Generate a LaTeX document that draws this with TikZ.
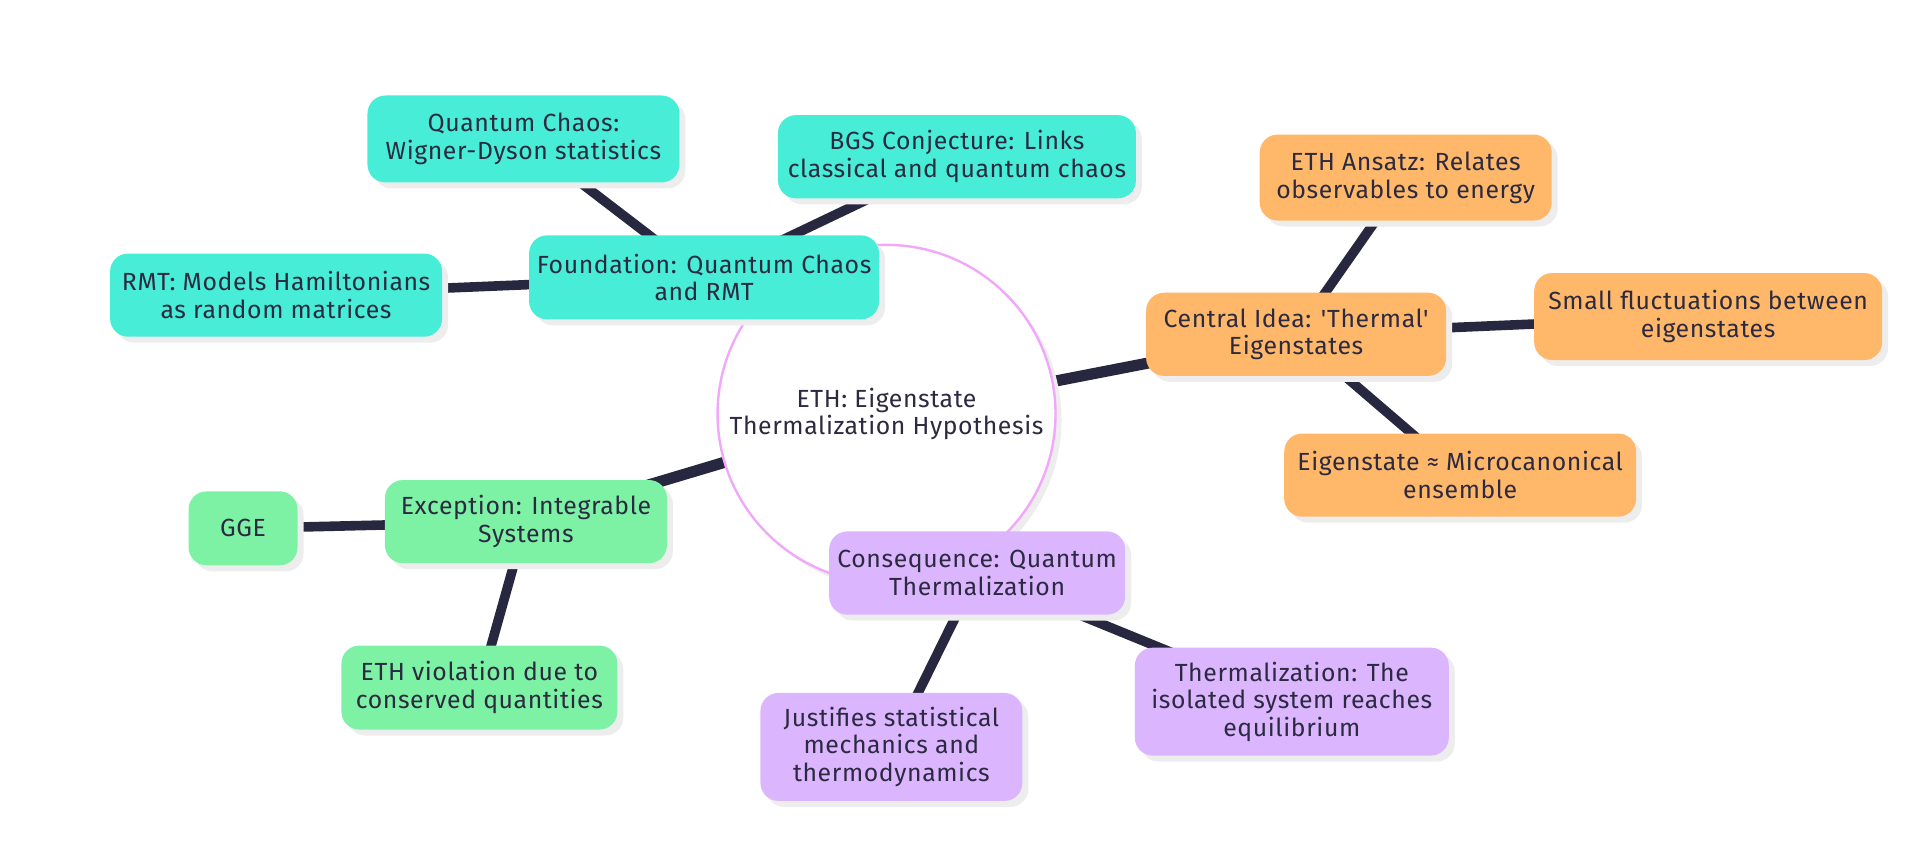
\documentclass[tikz,border=0pt]{standalone}
\usepackage{fontspec}
\newfontfamily\fira{Fira Sans}[LetterSpace=2.4]
\usetikzlibrary{shadows}
\pgfdeclarelayer{background}
\pgfsetlayers{background,main}
\definecolor{tealc}{HTML}{47EDD6}
\definecolor{orangec}{HTML}{FFB86A}
\definecolor{greenc}{HTML}{7DF2A5}
\definecolor{purplec}{HTML}{DBB5FE}
\definecolor{pinkc}{HTML}{F2A8FA}
\definecolor{ink}{HTML}{2B2A40}
\definecolor{linec}{HTML}{282740}
\definecolor{shadowc}{HTML}{EDEDED}
\begin{document}
\begin{tikzpicture}[x=0.6123pt,y=-0.6123pt,
  box/.style={rounded corners=9pt, align=center, text=ink, inner sep=1pt,
    font=\fira\fontsize{12.4}{13.8}\selectfont,
    drop shadow={shadow xshift=3pt, shadow yshift=-3pt, fill=shadowc, opacity=1}},
  tealbox/.style={box, fill=tealc},
  orangebox/.style={box, fill=orangec},
  greenbox/.style={box, fill=greenc},
  purplebox/.style={box, fill=purplec},
  mainlink/.style={draw=linec, line width=5.6pt},
  sublink/.style={draw=linec, line width=4.8pt}]
\useasboundingbox (0,0) rectangle (1568,699);

\node[circle, minimum size=169pt, inner sep=0pt, draw=pinkc, fill=white, line width=1.2pt,
  text=ink, align=center, font=\fira\fontsize{12.4}{13.8}\selectfont,
  drop shadow={shadow xshift=3pt, shadow yshift=-3pt, fill=shadowc, opacity=1}]
  (eth) at (724,338) {ETH: Eigenstate\\Thermalization Hypothesis};

\node[tealbox, minimum width=175pt, minimum height=42pt] (found) at (575,226.5) {Foundation: Quantum Chaos\\and RMT};
\node[tealbox, minimum width=156pt, minimum height=43.5pt] (qc) at (427.5,113.5) {Quantum Chaos:\\Wigner-Dyson statistics};
\node[tealbox, minimum width=179pt, minimum height=41.6pt] (bgs) at (781.5,128) {BGS Conjecture: Links\\classical and quantum chaos};
\node[tealbox, minimum width=166pt, minimum height=41.6pt] (rmt) at (225.5,241) {RMT: Models Hamiltonians\\as random matrices};

\node[orangebox, minimum width=150pt, minimum height=41.6pt] (central) at (1058.5,273) {Central Idea: 'Thermal'\\Eigenstates};
\node[orangebox, minimum width=146pt, minimum height=43pt] (ansatz) at (1148,145) {ETH Ansatz: Relates\\observables to energy};
\node[orangebox, minimum width=174pt, minimum height=43.5pt] (small) at (1395,258.5) {Small fluctuations between\\eigenstates};
\node[orangebox, minimum width=176pt, minimum height=41.6pt] (eigen) at (1192.5,388) {Eigenstate ≈ Microcanonical\\ensemble};

\node[greenbox, minimum width=141pt, minimum height=41.6pt] (except) at (429.5,426) {Exception: Integrable\\Systems};
\node[greenbox, minimum width=54.5pt, minimum height=37pt] (gge) at (198.5,431.5) {GGE};
\node[greenbox, minimum width=138pt, minimum height=42pt] (viol) at (391.5,561.5) {ETH violation due to\\conserved quantities};

\node[purplebox, minimum width=148pt, minimum height=41.6pt] (conseq) at (798,468) {Consequence: Quantum\\Thermalization};
\node[purplebox, minimum width=131pt, minimum height=54pt] (just) at (728,610) {Justifies statistical\\mechanics and\\thermodynamics};
\node[purplebox, minimum width=157pt, minimum height=54pt] (therm) at (1055,573) {Thermalization: The\\isolated system reaches\\equilibrium};

\begin{pgfonlayer}{background}
\draw[mainlink] (eth.center) -- (found.center);
\draw[mainlink] (eth.center) -- (central.center);
\draw[mainlink] (eth.center) -- (except.center);
\draw[mainlink] (eth.center) -- (conseq.center);
\draw[sublink] (found.center) -- (qc.center);
\draw[sublink] (found.center) -- (bgs.center);
\draw[sublink] (found.center) -- (rmt.center);
\draw[sublink] (central.center) -- (ansatz.center);
\draw[sublink] (central.center) -- (small.center);
\draw[sublink] (central.center) -- (eigen.center);
\draw[sublink] (except.center) -- (gge.center);
\draw[sublink] (except.center) -- (viol.center);
\draw[sublink] (conseq.center) -- (just.center);
\draw[sublink] (conseq.center) -- (therm.center);
\end{pgfonlayer}
\end{tikzpicture}
\end{document}
